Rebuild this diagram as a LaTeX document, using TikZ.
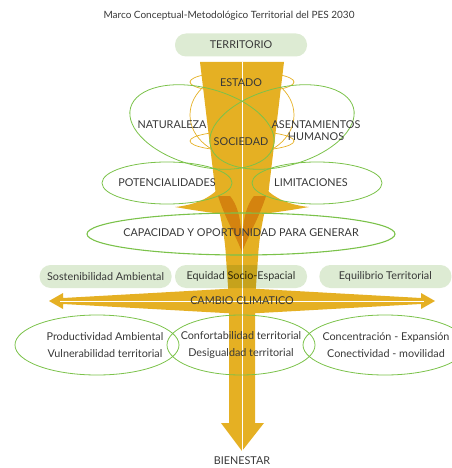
\documentclass[tikz,border=0pt]{standalone}
\usepackage{fontspec}
\setmainfont{Lato}
\usetikzlibrary{shapes.geometric, positioning, calc}

\definecolor{ochre}{HTML}{E5B023}
\definecolor{ochredark}{HTML}{D4830F}
\definecolor{ringgreen}{HTML}{7BC24A}
\definecolor{pillgreen}{HTML}{DDEBD3}
\definecolor{inkgray}{HTML}{383838}

\begin{document}
\begin{tikzpicture}[
    x=1pt, y=-1pt,
    txt/.style={text=inkgray, font=\fontsize{10.8}{12}\selectfont, inner sep=1pt, align=center},
    pair/.style={txt, font=\fontsize{10.8}{17}\selectfont},
    pill/.style={txt, rectangle, rounded corners=11pt, fill=pillgreen, minimum width=132pt, minimum height=23pt},
    ring/.style={draw=ringgreen, line width=0.8pt},
    orbit/.style={draw=ochre, line width=0.7pt},
    band/.style={fill=ochre},
    leaf/.style={fill=ochredark},
    seam/.style={draw=white, line width=1pt}
]
\useasboundingbox (0,0) rectangle (451,468);

% Orbits behind the trunk
\draw [orbit] (242,82) ellipse [x radius=52pt, y radius=10.5pt];
\draw [orbit] (242,141) ellipse [x radius=52pt, y radius=10pt];
\draw [orbit] (242,115) ellipse [x radius=52pt, y radius=42pt];

% Trunk and flares
\fill [band] (200,62) -- (284,62) -- (268,196) .. controls (264,215) and (259,235) .. (258,258) -- (255,300) -- (255,423) -- (264,423) -- (242,451) -- (221,423) -- (229,423) -- (229,300) -- (226,258) .. controls (225,235) and (220,215) .. (216,196) -- cycle;
\fill [band] (219,188) .. controls (210,198) and (195,205) .. (175,207) .. controls (192,210) and (206,212) .. (222,214) -- cycle;
\fill [band] (265,188) .. controls (274,198) and (289,205) .. (309,207) .. controls (292,210) and (278,212) .. (262,214) -- cycle;
\fill [leaf] (218,196) -- (230,196) .. controls (240,208) and (242,228) .. (242,252) .. controls (236,236) and (225,218) .. (218,196) -- cycle;
\fill [leaf] (266,196) -- (254,196) .. controls (244,208) and (242,228) .. (242,252) .. controls (248,236) and (259,218) .. (266,196) -- cycle;

% Climate arrow
\fill [band] (49,301) -- (63,293) -- (63,298) -- (242,288) -- (421,298) -- (421,293) -- (435,301) -- (421,309) -- (421,304) -- (242,314) -- (63,304) -- (63,309) -- cycle;
\draw [white, line width=0.4pt] (60,301) -- (424,301);
\draw [seam] (242,62) -- (242,451);

% Nodes
\node (title) [txt, font=\fontsize{10}{12}\selectfont] at (229,16) {Marco Conceptual-Metodológico Territorial del PES 2030};
\node (territorio) [pill] at (241,45) {TERRITORIO};

\begin{scope}[blend mode=multiply]
\node (equidad) [pill] at (241,276.5) {Equidad Socio-Espacial};
\end{scope}
\node (sostenib) [pill, left=3pt of equidad] {Sostenibilidad Ambiental};
\node (equilibrio) [pill, right=12pt of equidad] {Equilibrio Territorial};

% Rings
\draw [ring, rotate around={-15:(202,127)}] (202,127) ellipse [x radius=74pt, y radius=39pt];
\draw [ring, rotate around={15:(282,127)}] (282,127) ellipse [x radius=74pt, y radius=39pt];
\draw [ring] (167,183) ellipse [x radius=65pt, y radius=21pt];
\draw [ring] (317,183) ellipse [x radius=65pt, y radius=21pt];
\draw [ring, line width=1.1pt] (241,234) ellipse [x radius=154pt, y radius=21pt];
\draw [ring] (97,345) ellipse [x radius=82pt, y radius=30pt];
\draw [ring] (241,345) ellipse [x radius=74pt, y radius=30pt];
\draw [ring] (385,345) ellipse [x radius=82pt, y radius=30pt];

% Labels
\node (estado) [txt] at (241,83) {ESTADO};
\node (sociedad) [txt] at (241,142) {SOCIEDAD};
\node (naturaleza) [txt] at (172,125) {NATURALEZA};
\node (asentam) [txt] at (316,131) {ASENTAMIENTOS\\HUMANOS};
\node (potencial) [txt] at (167,183) {POTENCIALIDADES};
\node (limites) [txt] at (311,183) {LIMITACIONES};
\node (capacidad) [txt] at (241,233) {CAPACIDAD Y OPORTUNIDAD PARA GENERAR};
\node (cambio) [txt] at (242,301) {CAMBIO CLIMATICO};
\node (prodamb) [pair] at (105,345) {Productividad Ambiental\\Vulnerabilidad territorial};
\node (confort) [pair] at (241,345) {Confortabilidad territorial\\Desigualdad territorial};
\node (concent) [pair] at (386,345) {Concentración - Expansión\\Conectividad - movilidad};
\node (bienestar) [txt] at (242,461) {BIENESTAR};

\end{tikzpicture}
\end{document}
